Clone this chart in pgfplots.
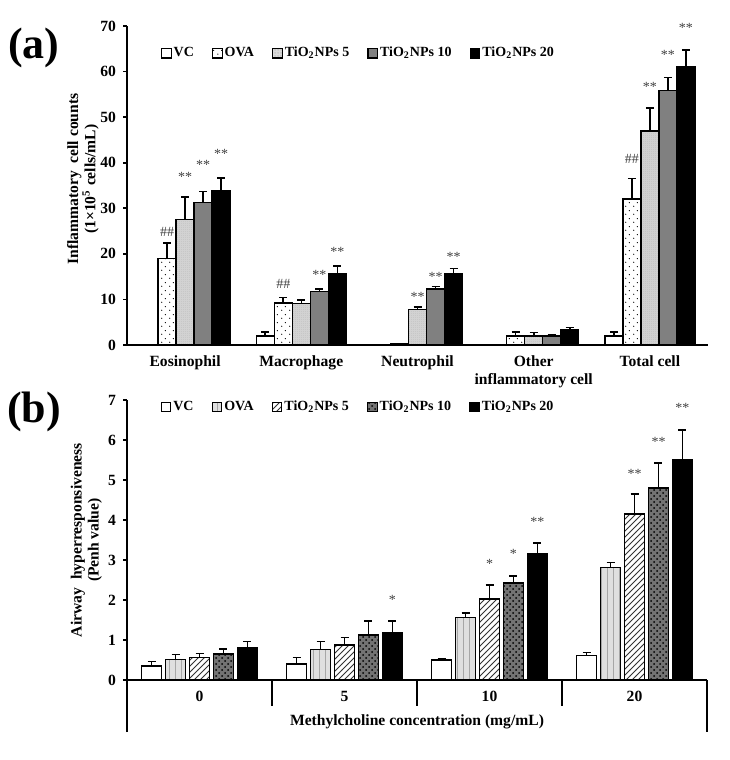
\documentclass[border=0pt]{standalone}
\usepackage{fontspec}
\setmainfont{Liberation Serif}
\usepackage{pgfplots}
\pgfplotsset{compat=1.18}
\usetikzlibrary{patterns,patterns.meta}

\tikzdeclarepattern{
  name=sparsedots, type=uncolored,
  bounding box={(0pt,0pt) and (4pt,4pt)},
  tile size={(4pt,4pt)},
  code={\fill (1pt,1pt) circle (0.35pt); \fill (3pt,3pt) circle (0.35pt);}
}
\tikzdeclarepattern{
  name=finedots, type=uncolored,
  bounding box={(0pt,0pt) and (1.2pt,1.2pt)},
  tile size={(1.2pt,1.2pt)},
  code={\fill (0.6pt,0.6pt) circle (0.3pt);}
}

\newcommand\fs{\fontsize{7.8}{8.6}\selectfont\bfseries}
\newcommand\fl{\fontsize{7}{8}\selectfont\bfseries}
\newcommand\fa{\fontsize{7}{7}\selectfont}

\pgfplotsset{
  mybars/.style={
    scale only axis,
    ybar, 
    bar width=0.155,
    tick align=outside,
    axis line style={line width=0.9pt},
    every tick/.style={line width=0.9pt, black},
    major tick length=2pt,
    ticklabel style={font=\fs},
    /pgf/number format/assume math mode=true,
    label style={font=\fs},
    legend style={draw=none, fill=none, font=\fl, legend columns=5,
      /tikz/every even column/.append style={column sep=7pt},
      /tikz/every odd column/.append style={column sep=-1pt},
      inner sep=1pt},
    legend image code/.code={\draw[##1, line width=0.6pt] (0pt,-2.4pt) rectangle (4.8pt,2.4pt);},
    error bars/y dir=plus,
    error bars/y explicit,
    error bars/error bar style={line width=0.8pt, black},
    error bars/error mark options={rotate=90, mark size=2pt, line width=0.8pt, black},
    every axis plot/.append style={line width=0.7pt, draw=black},
    clip=false,
  }
}

\begin{document}
\begin{tikzpicture}
\path[use as bounding box] (0pt,0pt) rectangle (364.5pt,380pt);

% ---------------- (a) ----------------
\begin{axis}[
  mybars,
  at={(63.5pt,207.5pt)}, anchor=south west,
  width=290.5pt, height=159.5pt,
  xmin=-0.5, xmax=4.5, ymin=0, ymax=70,
  axis x line*=bottom, axis y line*=left,
  ytick={0,10,...,70},
  xtick={0,1,2,3,4},
  xticklabels={Eosinophil, Macrophage, Neutrophil, {Other\\inflammatory cell}, Total cell},
  xticklabel style={align=center, font=\fs},
  x tick style={draw=none},
  minor xtick={0.5,1.5,2.5,3.5,4.5},
  minor tick length=2.5pt,
  minor x tick style={line width=0.9pt, black},
  ylabel={Inflammatory\ \ cell counts\\(1×10\textsuperscript{5} cells/mL)},
  ylabel style={align=center, at={(axis description cs:-0.076,0.52)}, anchor=center},
  legend style={at={(axis description cs:0.40,0.915)}, anchor=center},
]
\addplot[fill=white, bar shift=-0.31] coordinates {
  (0,0) (1,2.0) +- (0,0.8) (2,0.1) (4,2.0) +- (0,0.8)};
\addplot[fill=white, postaction={pattern=sparsedots}, bar shift=-0.155] coordinates {
  (0,19.0) +- (0,3.4) (1,9.2) +- (0,1.2) (2,0.3) (3,2.0) +- (0,0.8) (4,32.0) +- (0,4.5)};
\addplot[fill=gray!30, postaction={pattern=finedots, pattern color=gray!90}, bar shift=0] coordinates {
  (0,27.5) +- (0,5.0) (1,9.1) +- (0,0.8) (2,7.8) +- (0,0.6) (3,2.0) +- (0,0.7) (4,47.0) +- (0,5.0)};
\addplot[fill=black!50, bar shift=0.155] coordinates {
  (0,31.3) +- (0,2.4) (1,11.8) +- (0,0.5) (2,12.3) +- (0,0.5) (3,2.0) +- (0,0.3) (4,55.8) +- (0,2.9)};
\addplot[fill=black, bar shift=0.31] coordinates {
  (0,33.8) +- (0,2.8) (1,15.6) +- (0,1.7) (2,15.7) +- (0,1.1) (3,3.4) +- (0,0.4) (4,61.0) +- (0,3.8)};
\legend{VC, OVA, TiO\textsubscript{2}NPs 5, TiO\textsubscript{2}NPs 10, TiO\textsubscript{2}NPs 20}
% annotations
\begin{scope}[every node/.style={font=\fa, text=black!75}]
\node at (axis cs:-0.155,24.8) {\#\#};
\node at (axis cs:0,36.9) {**};
\node at (axis cs:0.155,39.5) {**};
\node at (axis cs:0.31,42.0) {**};
\node at (axis cs:0.845,13.5) {\#\#};
\node at (axis cs:1.155,15.3) {**};
\node at (axis cs:1.31,20.4) {**};
\node at (axis cs:2.0,10.6) {**};
\node at (axis cs:2.155,15.0) {**};
\node at (axis cs:2.31,19.3) {**};
\node at (axis cs:3.845,40.8) {\#\#};
\node at (axis cs:4.0,56.6) {**};
\node at (axis cs:4.155,63.6) {**};
\node at (axis cs:4.31,69.6) {**};
\end{scope}
\end{axis}

\node[font=\bfseries\fontsize{22}{22}\selectfont] at (17pt,356pt) {(a)};
\node[font=\bfseries\fontsize{22}{22}\selectfont] at (17pt,174pt) {(b)};

% ---------------- (b) ----------------
\begin{axis}[
  mybars,
  at={(63.5pt,14pt)}, anchor=south west,
  width=290pt, height=166pt,
  bar width=0.138,
  xmin=-0.5, xmax=3.5, ymin=-1.3, ymax=7,
  axis x line=none, axis y line*=left,
  ytick={0,1,...,7},
  ylabel={Airway\ \ hyperresponsiveness\\(Penh value)},
  ylabel style={align=center, at={(axis description cs:-0.07,0.578)}, anchor=center},
  legend style={at={(axis description cs:0.40,0.979)}, anchor=center},
]
\addplot[fill=white, bar shift=-0.331] coordinates {
  (0,0.35) +- (0,0.11) (1,0.40) +- (0,0.16) (2,0.50) +- (0,0.04) (3,0.61) +- (0,0.08)};
\addplot[fill=gray!25, postaction={pattern=vertical lines, pattern color=gray!70}, bar shift=-0.1655] coordinates {
  (0,0.52) +- (0,0.12) (1,0.77) +- (0,0.19) (2,1.56) +- (0,0.11) (3,2.81) +- (0,0.13)};
\addplot[fill=white, postaction={pattern=north east lines, pattern color=black!80}, bar shift=0] coordinates {
  (0,0.57) +- (0,0.09) (1,0.875) +- (0,0.19) (2,2.03) +- (0,0.35) (3,4.15) +- (0,0.50)};
\addplot[fill=black!55, postaction={pattern=crosshatch dots, pattern color=black}, bar shift=0.1655] coordinates {
  (0,0.65) +- (0,0.13) (1,1.13) +- (0,0.34) (2,2.43) +- (0,0.17) (3,4.80) +- (0,0.62)};
\addplot[fill=black, bar shift=0.331] coordinates {
  (0,0.81) +- (0,0.15) (1,1.18) +- (0,0.29) (2,3.16) +- (0,0.26) (3,5.51) +- (0,0.74)};
\legend{VC, OVA, TiO\textsubscript{2}NPs 5, TiO\textsubscript{2}NPs 10, TiO\textsubscript{2}NPs 20}
\draw[line width=0.9pt] (axis cs:-0.5,0) -- (axis cs:3.5,0);
\draw[line width=0.9pt] (axis cs:0.5,0) -- (axis cs:0.5,-0.65);
\draw[line width=0.9pt] (axis cs:1.5,0) -- (axis cs:1.5,-0.65);
\draw[line width=0.9pt] (axis cs:2.5,0) -- (axis cs:2.5,-0.65);
\draw[line width=0.9pt] (axis cs:3.5,0) -- (axis cs:3.5,-1.3);
\node[font=\fs] at (axis cs:0,-0.42) {0};
\node[font=\fs] at (axis cs:1,-0.42) {5};
\node[font=\fs] at (axis cs:2,-0.42) {10};
\node[font=\fs] at (axis cs:3,-0.42) {20};
\node[font=\fs] at (axis cs:1.5,-1.05) {Methylcholine concentration (mg/mL)};
\begin{scope}[every node/.style={font=\fa, text=black!75}]
\node at (axis cs:1.331,2.0) {*};
\node at (axis cs:2.0,2.9) {*};
\node at (axis cs:2.1655,3.15) {*};
\node at (axis cs:2.331,3.94) {**};
\node at (axis cs:3.0,5.15) {**};
\node at (axis cs:3.1655,5.94) {**};
\node at (axis cs:3.331,6.8) {**};
\end{scope}
\end{axis}
\end{tikzpicture}
\end{document}
